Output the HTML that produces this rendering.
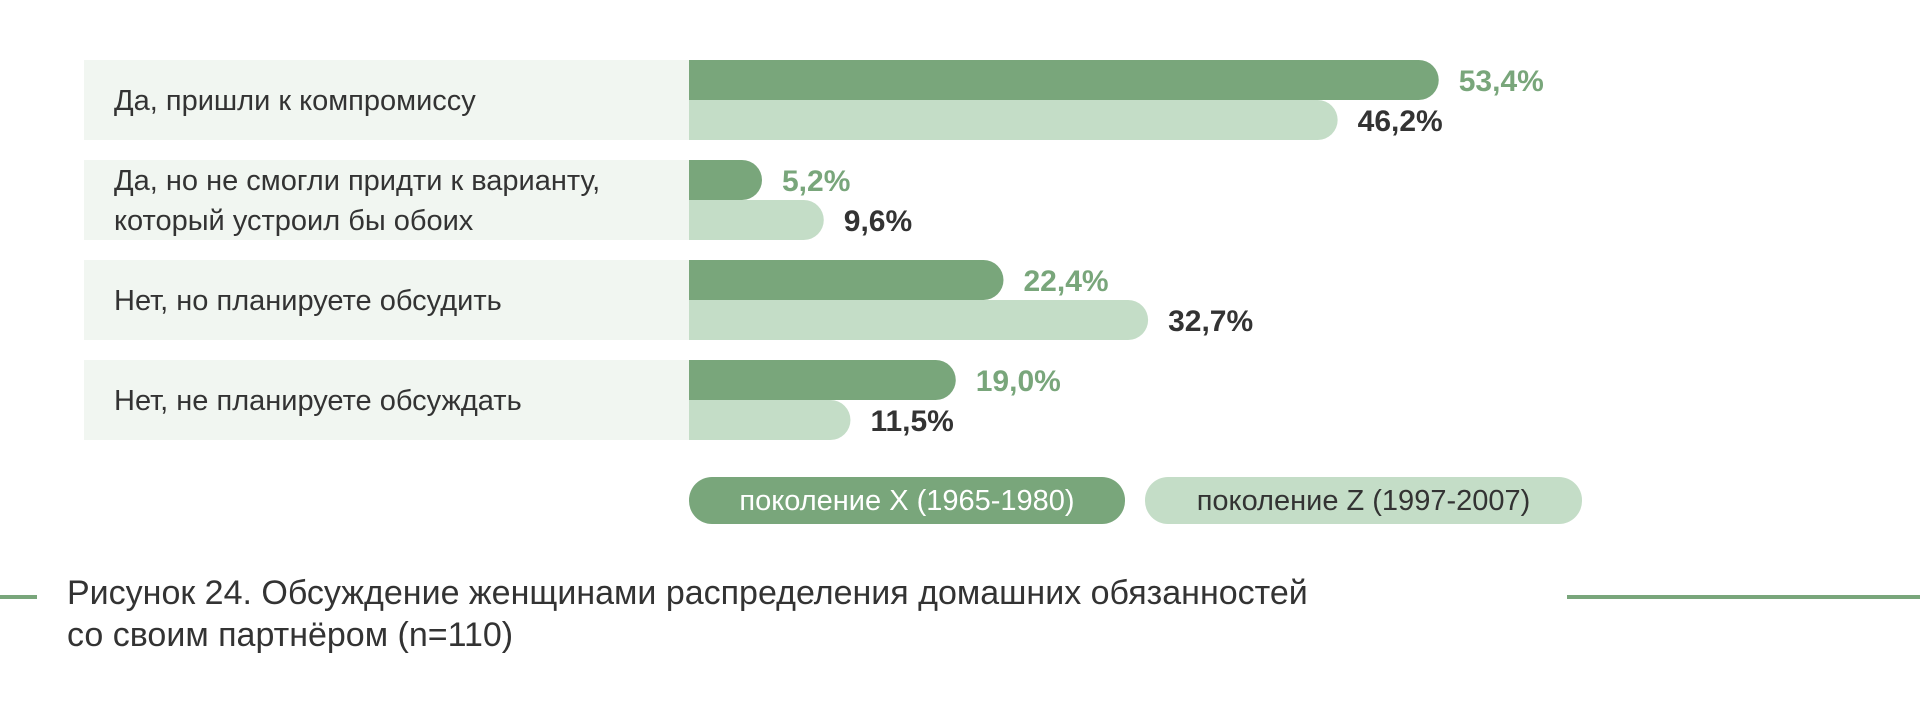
<!DOCTYPE html>
<html><head><meta charset="utf-8"><style>
body{margin:0;width:1920px;height:707px;background:#fff;overflow:hidden;font-family:"Liberation Sans","Noto Sans CJK SC",sans-serif}
svg{position:absolute;left:0;top:0}
</style></head><body>
<svg id="chart" width="1920" height="707"></svg>
<script>
const categories=[["Да, пришли к компромиссу"],["Да, но не смогли придти к варианту,","который устроил бы обоих"],["Нет, но планируете обсудить"],["Нет, не планируете обсуждать"]];
const seriesX=[53.4,5.2,22.4,19.0];
const seriesZ=[46.2,9.6,32.7,11.5];
const legendLabels=["поколение X (1965-1980)","поколение Z (1997-2007)"];
const NS="http://www.w3.org/2000/svg";
const svg=document.getElementById('chart');
const x0=689,pxPer=14.04,rowTop=60,rowStep=100,barH=40;
const xs=v=>v*pxPer;
function el(t,a,p){const e=document.createElementNS(NS,t);for(const k in a)e.setAttribute(k,a[k]);(p||svg).appendChild(e);return e;}
function fmt(v){return v.toFixed(1).replace('.',',')+'%';}
function bar(y,w,fill){const r=Math.min(20,w);return `M${x0},${y}H${x0+w-r}A${r},${r} 0 0 1 ${x0+w},${y+r}V${y+barH-r}A${r},${r} 0 0 1 ${x0+w-r},${y+barH}H${x0}Z`;}
categories.forEach((c,i)=>{
  const y=rowTop+i*rowStep;
  const bg=el('rect',{x:84,y:y,width:605,height:80,fill:'#f1f6f1'});
  
  
  const t=el('text',{x:114,'font-size':29,fill:'#333'});
  
  
  c.forEach((ln,j)=>{const ts=el('tspan',{x:114,y:(c.length==1?y+50:y+30+j*40)},t);ts.textContent=ln;});
  const wx=xs(seriesX[i]),wz=xs(seriesZ[i]);
  const bx=el('path',{d:bar(y,wx),fill:'#79a67b'});
  
  
  const bz=el('path',{d:bar(y+barH,wz),fill:'#c4ddc7'});
  
  
  const lx=el('text',{x:x0+wx+20,y:y+31,'font-size':30,'font-weight':'bold',fill:'#79a67b'});
  
  
  lx.textContent=fmt(seriesX[i]);
  const lz=el('text',{x:x0+wz+20,y:y+barH+31,'font-size':30,'font-weight':'bold',fill:'#333'});
  
  
  lz.textContent=fmt(seriesZ[i]);
});
const lg=[[689,436,'#79a67b','#fff'],[1145,437,'#c4ddc7','#333']];
legendLabels.forEach((s,i)=>{
  const [x,w,f,tc]=lg[i];
  const p=el('rect',{x:x,y:477,width:w,height:47,rx:23,fill:f});
  
  
  const t=el('text',{x:x+w/2,y:510,'font-size':29,fill:tc,'text-anchor':'middle'});
  
  
  t.textContent=s;
});
</script>
<div style="position:absolute;left:0;top:595px;width:37px;height:4px;background:#79a67b"></div>
<div style="position:absolute;left:1567px;top:595px;width:353px;height:4px;background:#79a67b"></div>
<div style="position:absolute;left:67px;top:572px;width:1420px;font-size:34px;line-height:42px;color:#333">Рисунок 24. Обсуждение женщинами распределения домашних обязанностей<br>со своим партнёром (n=110)</div>
</body></html>
